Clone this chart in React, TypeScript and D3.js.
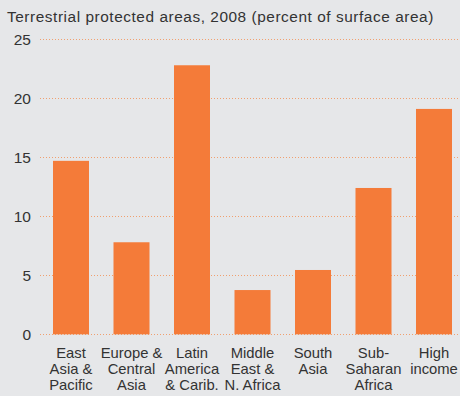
import React from "react";
import * as d3 from "d3";

const categories = [
  ["East", "Asia &", "Pacific"],
  ["Europe &", "Central", "Asia"],
  ["Latin", "America", "& Carib."],
  ["Middle", "East &", "N. Africa"],
  ["South", "Asia"],
  ["Sub-", "Saharan", "Africa"],
  ["High", "income"],
];
const values = [14.7, 7.8, 22.8, 3.75, 5.45, 12.4, 19.1];
const yTicks = [0, 5, 10, 15, 20, 25];
const title = "Terrestrial protected areas, 2008 (percent of surface area)";

const W = 460;
const H = 396;

export default function App() {
  const keys = categories.map((c, i) => String(i));
  const x = d3
    .scaleBand<string>()
    .domain(keys)
    .range([40.9, 464.1])
    .paddingInner(0.405)
    .paddingOuter(0.2);
  const y = d3.scaleLinear().domain([0, 25]).range([334.3, 39.3]);
  const font = "'Liberation Sans', Arial, sans-serif";
  return (
    <svg
      width={W}
      height={H}
      style={{ position: "absolute", left: 0, top: 0, background: "#e6e7e9" }}
    >
      <rect x={0} y={0} width={W} height={H} fill="#e6e7e9" />
      <text x={7} y={21.5} fontFamily={font} fontSize={15.4} letterSpacing={0.55} fill="#333">
        {title}
      </text>
      {yTicks.map((t) => (
        <g key={t}>
          <line
            x1={40}
            x2={W}
            y1={Math.round(y(t)) + 0.5}
            y2={Math.round(y(t)) + 0.5}
            stroke="#f0a070"
            strokeWidth={1}
            strokeDasharray="1,2"
          />
          <text
            x={31}
            y={y(t)}
            dy="0.36em"
            textAnchor="end"
            fontFamily={font}
            fontSize={15.5}
            fill="#333"
          >
            {t}
          </text>
        </g>
      ))}
      {values.map((v, i) => (
        <rect
          key={i}
          x={x(String(i))}
          y={y(v)}
          width={x.bandwidth()}
          height={y(0) - y(v)}
          fill="#f47b39"
        />
      ))}
      {categories.map((lines, i) => (
        <text
          key={i}
          x={(x(String(i)) as number) + x.bandwidth() / 2}
          y={353}
          textAnchor="middle"
          fontFamily={font}
          fontSize={14.8}
          fill="#333"
        >
          {lines.map((l, j) => (
            <tspan key={j} x={(x(String(i)) as number) + x.bandwidth() / 2} dy={j === 0 ? "0.36em" : 15.6}>
              {l}
            </tspan>
          ))}
        </text>
      ))}
    </svg>
  );
}
